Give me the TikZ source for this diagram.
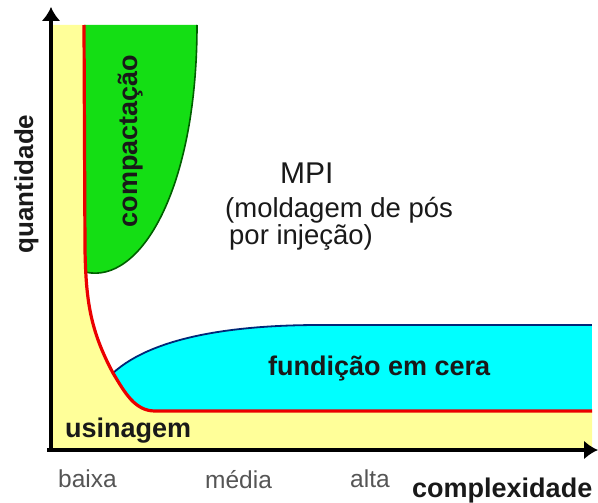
\documentclass[tikz,border=0pt]{standalone}
\usepackage{fontspec}
\setmainfont{Liberation Sans}
\usepackage{tikz}
\usetikzlibrary{arrows.meta}
\usepackage{xcolor}

\definecolor{usiyellow}{RGB}{255,255,153}
\definecolor{compgreen}{RGB}{20,222,20}
\definecolor{greenedge}{RGB}{0,95,0}
\definecolor{ceracyan}{RGB}{0,255,255}
\definecolor{ceraedge}{RGB}{0,40,120}
\definecolor{limitred}{RGB}{235,0,0}
\definecolor{ticktext}{RGB}{85,85,85}
\definecolor{darktext}{RGB}{25,25,25}

\tikzset{
  regionlabel/.style={inner sep=0pt, text=darktext, font=\fontsize{27}{32}\selectfont\bfseries},
  mpilabel/.style={inner sep=0pt, text=darktext, font=\fontsize{27.5}{32}\selectfont},
  ticklabel/.style={inner sep=0pt, text=ticktext, font=\fontsize{24.5}{29}\selectfont},
  axisline/.style={line width=4pt, -{Latex[length=14pt,width=19pt]}}
}

\begin{document}
\begin{tikzpicture}[x=1pt, y=-1pt]

  \useasboundingbox (0,0) rectangle (598,503);
  \fill[white] (0,0) rectangle (598,503);

  % Regions
  \fill[usiyellow] (51,25) -- (84,25) -- (85,250) .. controls (86,300) and (90,330) .. (113,373)
    .. controls (125,393) and (135,411) .. (155,411) -- (592,411) -- (592,450) -- (51,450) -- cycle;

  \fill[compgreen] (84,25) -- (197,25) .. controls (197,190) and (140,285) .. (85,272) -- cycle;
  \draw[greenedge, line width=1.6pt] (197,25) .. controls (197,190) and (140,285) .. (85,272);

  \begin{scope}
    \clip (84,25) -- (85,250) .. controls (86,300) and (90,330) .. (113,373)
      .. controls (125,393) and (135,411) .. (155,411) -- (592,411) -- (592,25) -- cycle;
    \fill[ceracyan] (113,373) .. controls (155,335) and (240,325) .. (320,325) -- (592,325)
      -- (592,411) -- (113,411) -- cycle;
    \draw[ceraedge, line width=1.8pt] (113,373) .. controls (155,335) and (240,325) .. (320,325) -- (592,325);
  \end{scope}

  \draw[limitred, line width=3.2pt] (84,25) -- (85,250) .. controls (86,300) and (90,330) .. (113,373)
    .. controls (125,393) and (135,411) .. (155,411) -- (592,411);

  % Axes
  \coordinate (origin) at (51,450);
  \coordinate (ytip) at (51,7);
  \coordinate (xtip) at (598,450);
  \draw[axisline] ([yshift=-2pt]origin) -- (ytip);
  \draw[axisline] ([xshift=-4pt]origin) -- (xtip);

  % Labels
  \node[regionlabel, rotate=90, anchor=base] (compactacao) at (137,141) {compactação};
  \node[regionlabel, rotate=90, anchor=base, font=\fontsize{26}{31}\selectfont\bfseries] (quantidade) at (33,184) {quantidade};
  \node[regionlabel, anchor=base west] (usinagem) at (65,437) {usinagem};
  \node[regionlabel, anchor=base west] (fundicao) at (268,375) {fundição em cera};
  \node[regionlabel, anchor=base west] (complexidade) at (412,497) {complexidade};

  \node[mpilabel, anchor=base west, font=\fontsize{30}{36}\selectfont] (mpi) at (280,183) {MPI};
  \node[mpilabel, anchor=base west] (moldagem) at (225,217) {(moldagem de pós};
  \node[mpilabel, anchor=base west] (injecao) at (229,244) {por injeção)};

  \node[ticklabel, anchor=base west] (baixa) at (58,487) {baixa};
  \node[ticklabel, anchor=base west] (media) at (205,488) {média};
  \node[ticklabel, anchor=base west] (alta) at (350,487) {alta};

\end{tikzpicture}
\end{document}
